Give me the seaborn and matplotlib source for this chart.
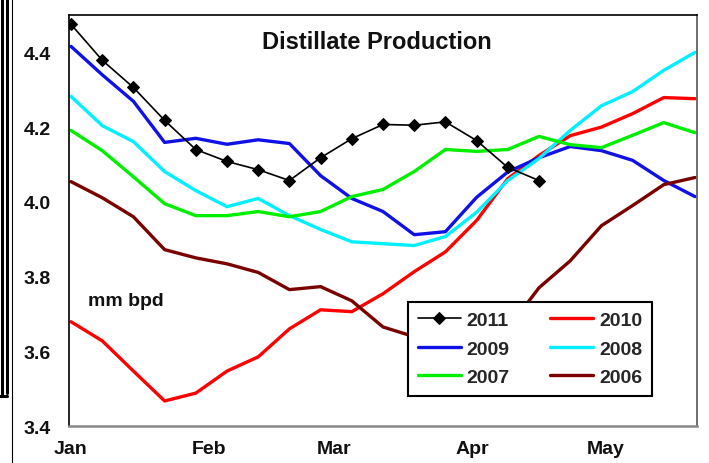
import numpy as np
import pandas as pd
import matplotlib
matplotlib.use("Agg")
import matplotlib.pyplot as plt
import seaborn as sns
from matplotlib.lines import Line2D

# weekly readings (mm bpd), first week of Jan onwards
days = np.arange(0, 141, 7)
prod_2011 = [4.475, 4.379, 4.306, 4.218, 4.140, 4.108, 4.086, 4.057, 4.118, 4.169,
             4.207, 4.205, 4.214, 4.164, 4.092, 4.057]
prod_2010 = [3.679, 3.628, 3.547, 3.467, 3.488, 3.547, 3.585, 3.660, 3.711, 3.706,
             3.754, 3.813, 3.866, 3.950, 4.062, 4.124, 4.177, 4.200, 4.236, 4.279, 4.276]
prod_2009 = [4.416, 4.340, 4.269, 4.159, 4.170, 4.154, 4.166, 4.156, 4.070, 4.009,
             3.974, 3.912, 3.920, 4.012, 4.080, 4.118, 4.148, 4.137, 4.111, 4.057, 4.014]
prod_2008 = [4.282, 4.204, 4.161, 4.081, 4.030, 3.987, 4.009, 3.963, 3.926, 3.893,
             3.888, 3.883, 3.907, 3.972, 4.057, 4.116, 4.191, 4.257, 4.295, 4.352, 4.400]
prod_2007 = [4.191, 4.137, 4.067, 3.995, 3.963, 3.963, 3.974, 3.960, 3.974, 4.014,
             4.033, 4.081, 4.140, 4.135, 4.140, 4.175, 4.153, 4.145, 4.178, 4.212, 4.185]
prod_2006 = [4.054, 4.011, 3.960, 3.872, 3.850, 3.834, 3.811, 3.765, 3.773, 3.735,
             3.665, 3.639, 3.620, 3.605, 3.660, 3.770, 3.842, 3.936, 3.990, 4.046, 4.065]

month_labels = ["Jan", "Feb", "Mar", "Apr", "May"]
month_days = [0, 31, 59, 90, 120]
y_ticks = [3.4, 3.6, 3.8, 4.0, 4.2, 4.4]

sns.set_style("white")
plt.rcParams["font.family"] = ["Liberation Sans", "DejaVu Sans"]
plt.rcParams["font.weight"] = "bold"

fig = plt.figure(figsize=(7.09, 4.64), dpi=100)
ax = fig.add_axes([69 / 709, 37 / 464, 628 / 709, 411 / 464])

series = [
    ("2010", prod_2010, "#ff0000"),
    ("2009", prod_2009, "#1010e8"),
    ("2008", prod_2008, "#00f0ff"),
    ("2007", prod_2007, "#00ee00"),
    ("2006", prod_2006, "#7a0000"),
]
for name, vals, col in series:
    sns.lineplot(x=days[:len(vals)], y=vals, color=col, linewidth=2.4,
                 label=name, ax=ax, zorder=2)
sns.lineplot(x=days[:len(prod_2011)], y=prod_2011, color="black", linewidth=1.2,
             marker="D", markersize=6.5, markeredgecolor="black", label="2011",
             ax=ax, zorder=3)

ax.set_xlim(-0.45, 140.45)
ax.set_ylim(3.4, 4.5)
ax.set_xticks(month_days)
ax.set_xticklabels(month_labels)
ax.set_yticks(y_ticks)
ax.set_yticklabels([f"{v:.1f}" for v in y_ticks])
ax.tick_params(axis="x", length=0, pad=10, labelsize=14)
ax.tick_params(axis="y", length=0, pad=13, labelsize=14)
for lbl in ax.get_xticklabels() + ax.get_yticklabels():
    lbl.set_fontweight("bold")
    lbl.set_color("#111111")
ax.set_xlabel("")
ax.set_ylabel("")

ax.spines["left"].set_color("black")
ax.spines["top"].set_color("black")
ax.spines["right"].set_color("#555555")
ax.spines["bottom"].set_color("#888888")
for s in ax.spines.values():
    s.set_linewidth(1.2)
ax.spines["bottom"].set_linewidth(1.8)

ax.text(0.49, 0.935, "Distillate Production", transform=ax.transAxes,
        ha="center", va="center", fontsize=17, fontweight="bold", color="#111111")
ax.text(3.8, 3.735, "mm bpd", ha="left", va="center", fontsize=14,
        fontweight="bold", color="#111111")

handles, labels = ax.get_legend_handles_labels()
order = ["2011", "2009", "2007", "2010", "2008", "2006"]
hmap = dict(zip(labels, handles))
leg = ax.legend([hmap[k] for k in order], order, ncol=2, loc="upper left",
                bbox_to_anchor=(0.54, 0.302), borderaxespad=0, fancybox=False,
                framealpha=1, edgecolor="black", handlelength=2.2,
                handletextpad=0.3, columnspacing=2.1, labelspacing=0.55,
                borderpad=0.5, prop={"size": 14, "weight": "bold"})
leg.get_frame().set_linewidth(1.5)
leg.set_zorder(5)

# screenshot frame remnants on the left edge
fig.add_artist(Line2D([1.5 / 709, 1.5 / 709], [1, 67 / 464], color="black", lw=2.2))
fig.add_artist(Line2D([6.5 / 709, 6.5 / 709], [1, 70 / 464], color="black", lw=2.2))
fig.add_artist(Line2D([0, 7.5 / 709], [67 / 464, 67 / 464], color="black", lw=2.2))
fig.add_artist(Line2D([12 / 709, 12 / 709], [1, 0], color="black", lw=0.8))

fig.savefig("out.png", dpi=100)
